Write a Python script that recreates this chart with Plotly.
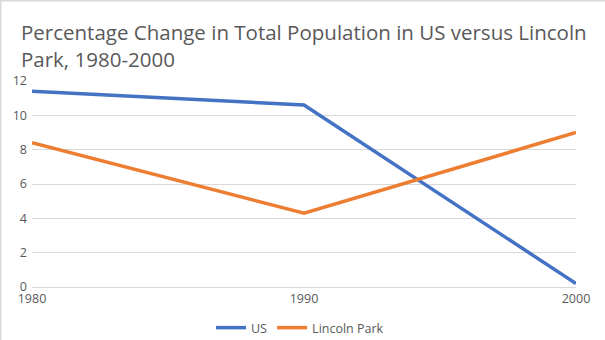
import plotly.graph_objects as go

years = ["1980", "1990", "2000"]
us = [11.4, 10.6, 0.2]
lincoln_park = [8.4, 4.3, 9.0]
y_ticks = [0, 2, 4, 6, 8, 10, 12]

W, H = 605, 340
ml, mr, mt, mb = 32, 29, 81, 53
pw, ph = W - ml - mr, H - mt - mb

fig = go.Figure()
fig.add_trace(go.Scatter(x=[0, 1, 2], y=us, mode="lines", name="US",
                         line=dict(color="#4472C4", width=3.5)))
fig.add_trace(go.Scatter(x=[0, 1, 2], y=lincoln_park, mode="lines", name="Lincoln Park",
                         line=dict(color="#ED7D31", width=3.5)))

fig.update_layout(
    width=W, height=H,
    margin=dict(l=ml, r=mr, t=mt, b=mb, autoexpand=False),
    paper_bgcolor="white", plot_bgcolor="white",
    font=dict(family="Open Sans, DejaVu Sans, sans-serif", color="#595959", size=12),
    showlegend=True,
    legend=dict(orientation="h", x=(300 - ml) / pw, xanchor="center",
                y=-(328 - mt - ph) / ph, yanchor="middle",
                font=dict(size=12.5, color="#595959"), tracegroupgap=0),
    xaxis=dict(tickmode="array", tickvals=[0, 1, 2], ticktext=years, range=[0, 2],
               showgrid=False, zeroline=False, showline=False, ticks="",
               ticklabelstandoff=2,
               tickfont=dict(size=12.5, color="#595959")),
    yaxis=dict(tickmode="array", tickvals=y_ticks, ticktext=[str(v) for v in y_ticks],
               range=[0, 12], showgrid=True, gridcolor="#D9D9D9", gridwidth=1,
               zeroline=True, zerolinecolor="#D9D9D9", zerolinewidth=1,
               showline=False, ticks="", ticklabelstandoff=4,
               tickfont=dict(size=12.5, color="#595959")),
)

# chart title, two lines, left aligned
fig.add_annotation(
    text="Percentage Change in Total Population in US versus Lincoln<br>Park, 1980-2000",
    xref="paper", yref="paper", x=(19 - ml) / pw, xanchor="left",
    y=1 + (mt - 16) / ph, yanchor="top", align="left", showarrow=False,
    font=dict(size=20.5, color="#595959"))

# light gray frame edges (left and top)
fig.add_shape(type="line", xref="paper", yref="paper",
              x0=(-ml + 0.75) / pw, x1=(-ml + 0.75) / pw,
              y0=-mb / ph, y1=1 + mt / ph,
              line=dict(color="#D9D9D9", width=1.5))
fig.add_shape(type="line", xref="paper", yref="paper",
              x0=-ml / pw, x1=1 + mr / pw,
              y0=1 + (mt - 0.75) / ph, y1=1 + (mt - 0.75) / ph,
              line=dict(color="#D9D9D9", width=1.5))

fig.write_html("out.html")
